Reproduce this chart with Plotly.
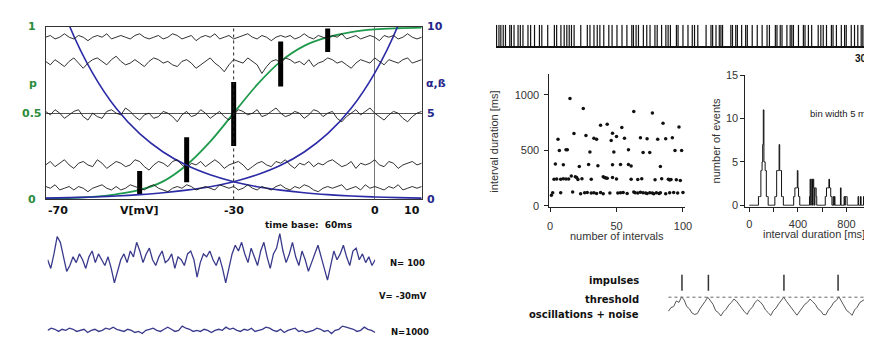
import plotly.graph_objects as go

W, H = 872, 338
def fx(p): return p / W
def fy(p): return 1 - p / H

# ---------------- top-left panel data ----------------
V_mV = [-70, -65, -60, -55, -50, -45, -40, -35, -30, -25, -20, -15, -10, -5, 0, 5, 10]
p_open = [0.004, 0.008, 0.015, 0.030, 0.055, 0.105, 0.20, 0.335, 0.50, 0.665, 0.80, 0.89, 0.94, 0.97, 0.985, 0.992, 0.996]
alpha_rate = [14.1, 10.1, 7.32, 5.28, 3.81, 2.75, 1.98, 1.43, 1.03, 0.74, 0.54, 0.39, 0.28, 0.20, 0.145, 0.105, 0.075]
beta_rate = [0.075, 0.105, 0.145, 0.20, 0.28, 0.39, 0.54, 0.74, 1.03, 1.43, 1.98, 2.75, 3.81, 5.28, 7.32, 10.1, 14.1]

bar_V = [-50, -40, -30, -20, -10]
bar_p_low = [0.03, 0.10, 0.31, 0.655, 0.855]
bar_p_high = [0.165, 0.36, 0.68, 0.915, 0.99]

v_example_mV = -30
v_zero_mV = 0
time_base_ms = 60

noise_base = [0.065, 0.20, 0.50, 0.80, 0.94]
noise_1 = [1,0,2,-1,0,1,-1,1,0,-2,0,1,2,0,-1,1,-1,0,2,1,0,-1,1,2,0,-1,-2,0,1,0,2,1,-1,0,1,0,-1,2,1,0,1,-1,0,2,0,-1,1,0,-1,1,2,0,-1,1,0,2,1,-1,-2,0,1,0,1,2,-1,0,1,-1,2,0,1,0,-1,1,0,2,-1,0,1,0,1]
noise_2 = [0,2,-1,1,3,0,-2,1,2,0,-1,3,1,-2,0,2,1,-1,0,3,2,-1,-3,0,2,1,-1,2,3,0,-2,1,0,2,-1,1,3,1,-2,0,1,2,0,-3,-1,1,2,0,-1,2,1,3,0,-2,1,0,2,-1,1,0,2,3,1,-1,0,2,-2,1,0,1,3,0,-1,2,1,-2,0,1,2,0,1]
noise_3 = [1,-1,2,0,-3,-1,1,2,-2,-4,0,-2,-3,1,2,0,-1,3,1,-2,-4,-1,0,-3,-2,1,0,-2,-5,-1,1,-2,-1,2,0,-3,-1,1,-2,-4,-1,2,1,-1,0,2,-2,-1,1,3,0,-2,-1,1,0,-3,-1,2,1,-2,0,1,-3,-5,-2,0,2,-1,1,3,0,-2,-4,-1,1,0,-3,-5,-2,0,1]
noise_4 = [0,-2,1,-1,-3,0,2,-1,-4,-1,1,2,0,-2,1,3,0,-2,-1,1,-1,-3,0,2,1,-1,0,-2,-3,0,1,-1,-4,-2,0,2,-1,-3,-6,-2,1,0,-1,2,0,-2,-7,-3,0,1,-1,2,1,-1,0,-2,1,-3,-1,0,2,1,-1,0,-2,-4,-1,1,0,-1,2,0,-2,1,0,-1,1,2,-1,0,1]
noise_5 = [0,1,-1,0,2,0,-1,1,0,-2,0,1,0,2,-1,0,1,0,-1,1,2,0,-1,0,1,-1,0,2,1,-1,0,1,-2,0,1,0,2,-1,0,1,-1,0,1,2,0,-1,1,0,-2,0,1,0,1,-1,0,2,0,-1,1,0,-1,1,0,2,-1,0,1,-1,0,1,0,-2,1,0,1,-1,0,2,0,-1,0]

# ---------------- bottom-left traces (tenths) ----------------
n100_trace = [0,-3,2,8,6,1,-4,-2,1,-1,2,0,-3,1,3,-1,2,0,-2,1,-3,-8,-4,0,2,-1,3,1,6,3,-1,2,4,0,-2,1,3,-1,0,2,-3,1,0,-2,2,3,0,-6,-1,2,1,3,0,-2,1,-3,-8,-3,2,5,3,6,2,-1,4,1,-2,3,6,1,-3,2,4,9,3,-1,2,6,1,-2,3,0,-4,-1,2,5,1,-3,-7,-2,3,0,2,5,1,-2,3,4,0,2,-1,1,-2,0]
n1000_trace = [0,2,1,-1,1,0,2,1,-1,0,1,-2,0,1,-1,0,2,1,3,1,0,-1,1,0,-2,-1,-3,0,1,2,0,-1,1,3,1,-1,0,4,2,1,-1,0,-1,1,0,-2,0,1,0,3,1,2,0,-1,1,0,2,-1,0,1,3,2,0,-1,1,-2,0,1,2,-1,0,-2,-1,0,2,1,-1,0,-3,0,1,4,3,2,1,-1,0,3,1,0,-2]

# ---------------- top-right spike train (s) ----------------
raster_len_s = 30
spike_times_s = [0.05,0.24,0.39,0.58,0.76,1.10,1.23,1.44,1.76,1.94,2.15,2.55,2.76,3.07,3.46,3.65,4.12,4.65,4.83,5.17,5.43,5.64,5.83,6.01,6.22,6.75,7.27,7.48,7.80,8.06,8.27,8.58,8.98,9.24,9.63,10.03,10.42,10.81,10.94,11.15,11.34,11.73,12.0,12.26,12.65,12.83,13.18,13.52,13.70,13.88,14.36,14.49,14.88,15.28,15.62,15.80,16.06,16.72,17.11,17.24,17.51,17.77,17.90,18.03,18.69,18.82,19.08,19.21,19.55,19.87,20.0,20.39,20.79,21.18,21.57,21.76,22.23,22.36,22.62,22.76,23.15,23.41,23.54,23.67,24.07,24.46,24.59,24.86,25.12,25.64,25.85,26.04,26.30,26.69,26.82,27.09,27.48,27.74,27.87,28.27,28.53,28.79,29.06,29.19,29.32,29.71,29.84]

# ---------------- scatter: interval durations ----------------
sc_interval_no = [1,2,8,17,23,26,28,31,33,35,38,40,45,51,53,55,58,63,64,66,68,70,72,73,75,77,78,80,82,83,87,90,93,96,100,
                  3,5,8,10,12,14,16,19,20,21,24,31,40,41,42,43,47,50,61,66,69,79,84,89,90,91,95,98,
                  4,10,22,29,36,47,53,59,61,83,
                  7,12,13,30,48,59,70,75,94,99,
                  6,27,33,35,46,50,56,68,73,81,87,92,
                  18,47,54,85,97,38,43,77,63,25,15]
sc_duration_ms = [95,118,118,125,110,118,120,115,117,112,120,108,115,115,118,120,112,125,118,115,122,118,115,112,118,115,110,118,112,118,108,118,120,115,120,
                  240,242,240,245,242,243,268,262,255,238,245,240,262,255,250,248,255,242,240,238,245,235,245,240,232,238,235,228,
                  378,370,355,372,362,370,372,372,360,355,
                  500,505,505,485,485,505,480,480,500,500,
                  600,635,610,600,590,625,610,615,605,600,605,615,
                  652,655,706,745,712,728,735,838,852,878,968]

# ---------------- histogram (5 ms bins) ----------------
hist_bin_ms = 5
hist_left_ms = [75,80,85,90,95,100,105,110,115,120,125,130,135,140,145,150,
                210,215,220,225,230,235,240,245,250,255,260,265,270,275,
                365,370,375,380,385,390,395,400,405,410,
                495,500,505,510,515,520,525,530,535,540,545,550,
                625,630,635,640,645,650,655,660,665,670,675,690,700,
                750,780,790,795,800,
                895,915,940]
hist_counts = [1,1,1,1,4,4,5,7,11,5,5,4,4,1,1,1,
               1,1,1,4,4,4,4,7,4,4,4,1,1,1,
               1,1,2,2,2,2,4,2,1,1,
               1,3,0,3,3,0,3,2,0,2,2,1,
               1,1,2,2,2,2,3,2,2,1,1,1,1,
               2,1,1,1,1,
               1,1,1]

# ---------------- bottom-right: oscillations + noise ----------------
osc_start_ms = 5
osc_step_ms = 2.5
osc_v = [0.25,0.45,0.5,0.8,0.72,1.02,0.85,0.5,0.38,0.15,0.08,0.12,0.38,0.55,0.78,1.0,0.82,0.62,0.28,0.18,0.0,0.22,0.36,0.58,0.72,0.9,0.78,0.58,0.36,0.22,0.08,0.33,0.46,0.72,0.85,0.75,0.58,0.32,0.18,0.02,0.28,0.42,0.64,0.82,1.0,0.78,0.58,0.36,0.22,0.04,0.24,0.38,0.62,0.72,0.9,0.76,0.62,0.38,0.28,0.08,0.06,0.32,0.48,0.72,0.82,1.02,0.78,0.58,0.28,0.18,0.03,0.32,0.47,0.72,0.83,0.9,0.68,0.58,0.38]
osc_end_ms = 200
threshold_level = 1.0
impulse_t_ms = [17.9, 43.1, 115.1, 166.7]
impulse_low, impulse_high = 1.35, 2.2

# ======================================================================
fig = go.Figure()
NAVY = '#2b2ba6'
GREEN = '#1f9a4c'
LBL_GREEN = '#2a8c3c'
LBL_BLUE = '#25258a'

# noise traces in top-left
for base, dev in zip(noise_base, [noise_1, noise_2, noise_3, noise_4, noise_5]):
    n = len(dev)
    fig.add_trace(go.Scatter(x=[time_base_ms * i / (n - 1) for i in range(n)],
                             y=[base + d / 100 for d in dev],
                             xaxis='x2', yaxis='y', mode='lines',
                             line=dict(color='#1a1a1a', width=0.9), hoverinfo='skip'))
# alpha / beta
for r in (alpha_rate, beta_rate):
    fig.add_trace(go.Scatter(x=V_mV, y=r, xaxis='x', yaxis='y2', mode='lines',
                             line=dict(color=NAVY, width=1.6, shape='spline'), hoverinfo='skip'))
# p(V)
fig.add_trace(go.Scatter(x=V_mV, y=p_open, xaxis='x', yaxis='y', mode='lines',
                         line=dict(color=GREEN, width=1.8, shape='spline'), hoverinfo='skip'))
# bars
bx, by = [], []
for v, lo, hi in zip(bar_V, bar_p_low, bar_p_high):
    bx += [v, v, None]; by += [lo, hi, None]
fig.add_trace(go.Scatter(x=bx, y=by, xaxis='x', yaxis='y', mode='lines',
                         line=dict(color='black', width=5), hoverinfo='skip'))

# bottom-left traces
for tr, ax, ay in ((n100_trace, 'x3', 'y3'), (n1000_trace, 'x4', 'y4')):
    n = len(tr)
    fig.add_trace(go.Scatter(x=[time_base_ms * i / (n - 1) for i in range(n)],
                             y=[v / 10 for v in tr], xaxis=ax, yaxis=ay, mode='lines',
                             line=dict(color='#3a3a8c', width=1.3), hoverinfo='skip'))

# raster
rx, ry = [], []
for t in spike_times_s:
    rx += [t, t, None]; ry += [0, 1, None]
fig.add_trace(go.Scatter(x=rx, y=ry, xaxis='x5', yaxis='y5', mode='lines',
                         line=dict(color='#111', width=1.2), hoverinfo='skip'))

# scatter
fig.add_trace(go.Scatter(x=sc_interval_no, y=sc_duration_ms, xaxis='x6', yaxis='y6', mode='markers',
                         marker=dict(color='#111', size=3.5), hoverinfo='skip'))

# histogram as step outline
nb = 1020 // hist_bin_ms + 2
counts = [0] * nb
for l, c in zip(hist_left_ms, hist_counts):
    counts[l // hist_bin_ms] = c
edges = [i * hist_bin_ms for i in range(nb)]
fig.add_trace(go.Scatter(x=edges, y=counts, xaxis='x7', yaxis='y7', mode='lines',
                         line=dict(color='#111', width=1, shape='hv'), hoverinfo='skip'))

# oscillation trace
fig.add_trace(go.Scatter(x=[osc_start_ms + osc_step_ms * i for i in range(len(osc_v))], y=osc_v,
                         xaxis='x8', yaxis='y8', mode='lines',
                         line=dict(color='#555', width=1), hoverinfo='skip'))
fig.add_trace(go.Scatter(x=[osc_start_ms, osc_end_ms], y=[threshold_level, threshold_level],
                         xaxis='x8', yaxis='y8', mode='lines',
                         line=dict(color='#666', width=1, dash='dot'), hoverinfo='skip'))
ix, iy = [], []
for t in impulse_t_ms:
    ix += [t, t, None]; iy += [impulse_low, impulse_high, None]
fig.add_trace(go.Scatter(x=ix, y=iy, xaxis='x8', yaxis='y8', mode='lines',
                         line=dict(color='#333', width=1.5), hoverinfo='skip'))

hidden = dict(visible=False, showgrid=False, zeroline=False)
RF = dict(family='Liberation Sans, Arial', size=11, color='#333')
ax_common = dict(showline=True, linecolor='#222', linewidth=1, ticks='outside', ticklen=4,
                 tickcolor='#222', showgrid=False, zeroline=False, tickfont=RF)

fig.update_layout(
    width=W, height=H, margin=dict(l=0, r=0, t=0, b=0),
    paper_bgcolor='white', plot_bgcolor='rgba(0,0,0,0)', showlegend=False,
    xaxis=dict(domain=[fx(36), fx(416)], range=[-70, 10], anchor='y', showline=True, mirror=True,
               linecolor='#333', linewidth=1, ticks='', showticklabels=False, showgrid=True,
               tickvals=[v_zero_mV], gridcolor='#777', gridwidth=1, zeroline=False),
    yaxis=dict(domain=[fy(191.7), fy(13.3)], range=[0, 1], anchor='x', showline=True, mirror=True,
               linecolor='#333', linewidth=1, ticks='', showticklabels=False, showgrid=True,
               tickvals=[0.5], gridcolor='#555', gridwidth=1, zeroline=False),
    xaxis2=dict(overlaying='x', range=[0, time_base_ms], anchor='y', **hidden),
    yaxis2=dict(overlaying='y', range=[0, 10], anchor='x', **hidden),
    xaxis3=dict(domain=[fx(38), fx(369)], range=[0, time_base_ms], anchor='y3', **hidden),
    yaxis3=dict(domain=[fy(284), fy(224)], range=[-1, 1], anchor='x3', **hidden),
    xaxis4=dict(domain=[fx(38), fx(369)], range=[0, time_base_ms], anchor='y4', **hidden),
    yaxis4=dict(domain=[fy(338), fy(316)], range=[-1, 1], anchor='x4', **hidden),
    xaxis5=dict(domain=[fx(491), 1], range=[0, raster_len_s], anchor='y5', showline=True,
                linecolor='#111', linewidth=2, ticks='', showticklabels=False, showgrid=False, zeroline=False),
    yaxis5=dict(domain=[fy(33.5), fy(11)], range=[0, 1], anchor='x5', **hidden),
    xaxis6=dict(domain=[fx(545), fx(682)], range=[-0.5, 101.5], anchor='y6',
                tickvals=[0, 50, 100], ticklabelstandoff=4, **ax_common),
    yaxis6=dict(domain=[fy(200), fy(61.7)], range=[-15, 1192], anchor='x6',
                tickvals=[0, 500, 1000], ticklabelstandoff=3, **ax_common),
    xaxis7=dict(domain=[fx(743), 1], range=[-33, 1018], anchor='y7',
                tickvals=[0, 200, 400, 600, 800, 1000], ticktext=['0', '', '400', '', '800', ''],
                ticklabelstandoff=3, **ax_common),
    yaxis7=dict(domain=[fy(199), fy(63)], range=[-0.15, 15.03], anchor='x7',
                tickvals=[0, 5, 10, 15], **ax_common),
    xaxis8=dict(domain=[fx(660), 1], range=[0, osc_end_ms], anchor='y8', **hidden),
    yaxis8=dict(domain=[fy(320), fy(260)], range=[-0.41, 2.69], anchor='x8', **hidden),
)

fig.add_shape(type='line', xref='x', yref='y domain', x0=v_example_mV, x1=v_example_mV, y0=0, y1=1,
              line=dict(color='#222', width=1, dash='dot'))

ann = []
LF = 'DejaVu Sans'
def A(text, x, y, xref='paper', yref='paper', size=11, color='#111', xanchor='center',
      yanchor='middle', family=LF, angle=0):
    ann.append(dict(text=text, x=x, y=y, xref=xref, yref=yref, showarrow=False,
                    xanchor=xanchor, yanchor=yanchor, textangle=angle,
                    font=dict(family=family, size=size, color=color)))

# left panel tick labels
for v, t, xa in zip([-70, -50, -30, 0, 10], ['-70', 'V[mV]', '-30', '0', '10'],
                    ['left', 'center', 'center', 'center', 'right']):
    A('<b>%s</b>' % t, v, fy(203), xref='x', xanchor=xa)
for pv, t in zip([1, 0.5, 0], ['1', '0.5', '0']):
    A('<b>%s</b>' % t, fx(22), pv, yref='y', color=LBL_GREEN)
A('<b>p</b>', fx(23), fy(72), color=LBL_GREEN)
for rv, t in zip([10, 5, 0], ['10', '5', '0']):
    A('<b>%s</b>' % t, fx(419), rv, yref='y2', color=LBL_BLUE, xanchor='left')
A('<b>α,ß</b>', fx(418), fy(72), color=LBL_BLUE, xanchor='left')
A('<b>time base:  60ms</b>', fx(302), fy(218), size=9)
A('<b>N= 100</b>', fx(402), fy(257), size=8.5)
A('<b>V= -30mV</b>', fx(397), fy(291), size=8.5)
A('<b>N=1000</b>', fx(404), fy(329), size=8.5)

# right side labels
A('<b>30</b>', fx(868), fy(46), size=10, xanchor='right', family='Liberation Sans, Arial')
A('number of intervals', fx(613), fy(229), family='Liberation Sans, Arial', color='#333')
A('interval duration [ms]', fx(489), fy(132), angle=-90, family='Liberation Sans, Arial', color='#333')
A('interval duration [ms]', fx(812), fy(227), family='Liberation Sans, Arial', color='#333')
A('number of events', fx(713), fy(131), angle=-90, family='Liberation Sans, Arial', color='#333')
A('bin width 5 ms', fx(806), fy(103), size=9.5, xanchor='left', family='Liberation Sans, Arial', color='#222')

A('<b>impulses</b>', fx(638), fy(275), size=10, xanchor='right')
A('<b>threshold</b>', fx(638), fy(295), size=10, xanchor='right')
A('<b>oscillations + noise</b>', fx(638), fy(311), size=10, xanchor='right')

fig.update_layout(annotations=ann)
fig.write_html('out.html')
